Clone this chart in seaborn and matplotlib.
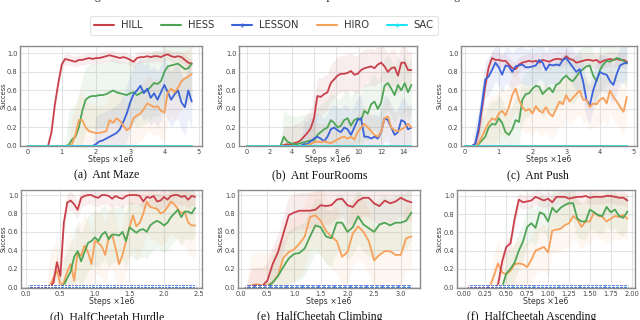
import numpy as np
import pandas as pd
import matplotlib
matplotlib.use('Agg')
import matplotlib.pyplot as plt
from matplotlib.lines import Line2D
import seaborn as sns

# ---- data (success rate vs steps x1e6) ----
methods = ['HILL', 'HESS', 'LESSON', 'HIRO', 'SAC']
colors = {'HILL': '#c9404b', 'HESS': '#4fa556', 'LESSON': '#3a62d9',
          'HIRO': '#f7a05a', 'SAC': '#1ee3f0'}

# (a) Ant Maze
steps_a = np.round(np.arange(0, 4.85, 0.1), 2)
hill_a = [0.0] * 7 + [0.15, 0.45, 0.68, 0.88, 0.94, 0.93, 0.92, 0.91, 0.93, 0.93, 0.94, 0.95,
                      0.94, 0.95, 0.95, 0.96, 0.97, 0.98, 0.97, 0.96, 0.95, 0.96, 0.95, 0.93,
                      0.91, 0.95, 0.96, 0.96, 0.97, 0.96, 0.97, 0.97, 0.96, 0.98, 0.99, 0.97,
                      0.96, 0.97, 0.96, 0.93, 0.90, 0.89]
hess_a = [0.0] * 12 + [0.01, 0.07, 0.1, 0.2, 0.38, 0.5, 0.53, 0.54, 0.54, 0.55, 0.55, 0.56,
                       0.58, 0.6, 0.58, 0.57, 0.56, 0.55, 0.57, 0.58, 0.55, 0.57, 0.59, 0.6,
                       0.64, 0.68, 0.67, 0.7, 0.8, 0.86, 0.87, 0.88, 0.89, 0.86, 0.83, 0.84, 0.89]
lesson_a = [0.0] * 20 + [0.02, 0.05, 0.06, 0.08, 0.1, 0.12, 0.14, 0.18, 0.26, 0.35, 0.47, 0.56,
                         0.6, 0.65, 0.57, 0.62, 0.52, 0.57, 0.5, 0.58, 0.66, 0.58, 0.5, 0.56,
                         0.6, 0.47, 0.42, 0.6, 0.48]
hiro_a = [0.0] * 13 + [0.02, 0.12, 0.28, 0.28, 0.2, 0.16, 0.15, 0.14, 0.14, 0.15, 0.16, 0.28,
                       0.25, 0.3, 0.27, 0.22, 0.17, 0.2, 0.3, 0.33, 0.35, 0.4, 0.46, 0.44,
                       0.42, 0.43, 0.38, 0.36, 0.58, 0.62, 0.58, 0.63, 0.7, 0.73, 0.75, 0.78]
sac_a = [0.0] * 49

# (b) Ant FourRooms
steps_b = np.round(np.arange(0, 14.75, 0.3), 2)
hill_b = [0.0] * 11 + [0.01, 0.02, 0.01, 0.03, 0.04, 0.06, 0.1, 0.14, 0.19, 0.3, 0.54, 0.53,
                       0.56, 0.58, 0.68, 0.72, 0.76, 0.78, 0.78, 0.79, 0.81, 0.77, 0.78, 0.82,
                       0.84, 0.85, 0.86, 0.84, 0.88, 0.9, 0.86, 0.8, 0.84, 0.85, 0.76, 0.9,
                       0.9, 0.82, 0.82]
hess_b = [0.0] * 11 + [0.1, 0.05, 0.03, 0.02, 0.02, 0.03, 0.04, 0.05, 0.06, 0.06, 0.12, 0.15,
                       0.18, 0.2, 0.28, 0.25, 0.2, 0.22, 0.28, 0.3, 0.22, 0.28, 0.3, 0.28,
                       0.38, 0.35, 0.45, 0.48, 0.4, 0.47, 0.65, 0.68, 0.62, 0.55, 0.66, 0.6,
                       0.68, 0.58, 0.66]
lesson_b = [0.0] * 17 + [0.02, 0.02, 0.05, 0.08, 0.1, 0.08, 0.05, 0.1, 0.18, 0.2, 0.17, 0.15,
                         0.2, 0.18, 0.12, 0.2, 0.28, 0.3, 0.1, 0.1, 0.08, 0.1, 0.08, 0.15,
                         0.3, 0.28, 0.2, 0.12, 0.15, 0.28, 0.26, 0.18, 0.2]
hiro_b = [0.0] * 18 + [0.01, 0.02, 0.04, 0.05, 0.04, 0.05, 0.04, 0.03, 0.05, 0.07, 0.09, 0.1,
                       0.08, 0.1, 0.07, 0.15, 0.2, 0.24, 0.2, 0.16, 0.12, 0.1, 0.15, 0.3,
                       0.32, 0.2, 0.17, 0.16, 0.18, 0.2, 0.24, 0.2]
sac_b = [0.0] * 50

# (c) Ant Push
steps_c = np.round(np.arange(0, 4.85, 0.1), 2)
hill_c = [0.0] * 3 + [0.02, 0.15, 0.4, 0.65, 0.85, 0.95, 0.93, 0.93, 0.92, 0.92, 0.88, 0.84,
                      0.83, 0.88, 0.9, 0.91, 0.92, 0.91, 0.92, 0.9, 0.93, 0.92, 0.91, 0.93,
                      0.94, 0.94, 0.93, 0.97, 0.94, 0.93, 0.9, 0.91, 0.92, 0.93, 0.93, 0.92,
                      0.93, 0.9, 0.92, 0.93, 0.94, 0.93, 0.94, 0.93, 0.93, 0.91]
hess_c = [0.0] * 4 + [0.02, 0.06, 0.1, 0.2, 0.24, 0.23, 0.3, 0.25, 0.15, 0.12, 0.18, 0.28,
                      0.26, 0.5, 0.56, 0.57, 0.62, 0.65, 0.64, 0.56, 0.6, 0.63, 0.58, 0.66,
                      0.68, 0.73, 0.76, 0.72, 0.7, 0.75, 0.8, 0.83, 0.86, 0.87, 0.76, 0.7,
                      0.82, 0.88, 0.92, 0.91, 0.93, 0.95, 0.94, 0.92, 0.89]
lesson_c = [0.0] * 3 + [0.02, 0.2, 0.45, 0.72, 0.75, 0.82, 0.9, 0.85, 0.77, 0.87, 0.86, 0.8,
                        0.86, 0.87, 0.88, 0.85, 0.85, 0.86, 0.87, 0.93, 0.9, 0.82, 0.88, 0.87,
                        0.88, 0.87, 0.93, 0.95, 0.9, 0.85, 0.8, 0.83, 0.7, 0.5, 0.44, 0.6,
                        0.71, 0.8, 0.78, 0.77, 0.7, 0.66, 0.78, 0.87, 0.89, 0.9]
hiro_c = [0.0] * 4 + [0.03, 0.1, 0.18, 0.25, 0.3, 0.28, 0.35, 0.38, 0.33, 0.42, 0.55, 0.62,
                      0.5, 0.42, 0.38, 0.4, 0.35, 0.43, 0.38, 0.36, 0.42, 0.35, 0.32, 0.4,
                      0.48, 0.45, 0.55, 0.48, 0.52, 0.56, 0.6, 0.5, 0.5, 0.42, 0.46, 0.45,
                      0.5, 0.52, 0.46, 0.6, 0.53, 0.48, 0.42, 0.37, 0.53]
sac_c = [0.0] * 49

# (d) HalfCheetah Hurdle
steps_d = np.round(np.arange(0.05, 2.46, 0.05), 2)
hill_d = [0.0] * 7 + [0.05, 0.27, 0.12, 0.7, 0.92, 0.94, 0.9, 0.84, 0.97, 0.99, 1.0, 1.0,
                      0.98, 0.97, 1.0, 1.0, 0.99, 0.96, 0.99, 0.97, 0.96, 0.99, 1.0, 1.0,
                      1.0, 0.99, 0.93, 0.98, 0.97, 0.99, 0.93, 0.94, 0.98, 0.95, 0.99, 1.0,
                      1.0, 0.98, 0.99, 0.95, 0.99, 0.98]
hess_d = [0.0] * 10 + [0.02, 0.1, 0.17, 0.33, 0.39, 0.28, 0.38, 0.48, 0.5, 0.54, 0.5, 0.57,
                       0.6, 0.52, 0.57, 0.57, 0.56, 0.6, 0.5, 0.65, 0.62, 0.59, 0.62, 0.63,
                       0.6, 0.67, 0.7, 0.72, 0.7, 0.67, 0.7, 0.76, 0.8, 0.84, 0.76, 0.82,
                       0.82, 0.8, 0.86]
lesson_d = [0.01] * 49
hiro_d = [0.0] * 6 + [0.02, 0.1, 0.18, 0.02, 0.05, 0.17, 0.25, 0.07, 0.38, 0.34, 0.45, 0.38,
                      0.25, 0.5, 0.48, 0.44, 0.35, 0.54, 0.57, 0.42, 0.25, 0.35, 0.5, 0.65,
                      0.78, 0.66, 0.7, 0.8, 0.93, 0.87, 0.86, 0.85, 0.8, 0.82, 0.87, 0.93,
                      0.9, 0.85, 0.8, 0.82, 0.7, 0.67, 0.67]
sac_d = [0.0] * 49

# (e) HalfCheetah Climbing
steps_e = np.round(np.arange(0.1, 3.25, 0.1), 2)
hill_e = [0.0, 0.01, 0.02, 0.01, 0.07, 0.25, 0.38, 0.58, 0.78, 0.81, 0.83, 0.83, 0.83, 0.84,
          0.89, 0.88, 0.89, 0.95, 0.96, 0.89, 0.87, 0.94, 0.97, 0.97, 0.91, 0.88, 0.94, 0.91,
          0.93, 0.97, 0.94, 0.92]
hess_e = [0.0, 0.0, 0.0, 0.0, 0.0, 0.05, 0.12, 0.22, 0.31, 0.36, 0.37, 0.42, 0.55, 0.67,
          0.65, 0.55, 0.53, 0.7, 0.7, 0.6, 0.65, 0.77, 0.68, 0.64, 0.6, 0.68, 0.7, 0.67,
          0.7, 0.7, 0.72, 0.81]
lesson_e = [0.01] * 32
hiro_e = [0.0, 0.02, 0.03, 0.02, 0.02, 0.05, 0.13, 0.32, 0.38, 0.41, 0.47, 0.55, 0.76, 0.78,
          0.72, 0.61, 0.55, 0.5, 0.33, 0.38, 0.58, 0.66, 0.6, 0.5, 0.29, 0.35, 0.39, 0.39,
          0.35, 0.35, 0.53, 0.55]
sac_e = [0.0] * 32

# (f) HalfCheetah Ascending
steps_f = np.round(np.arange(0.05, 1.96, 0.05), 2)
hill_f = [0.0] * 7 + [0.02, 0.28, 0.44, 0.48, 0.75, 0.96, 0.93, 0.94, 0.95, 0.99, 0.97, 0.95,
                      0.97, 0.93, 0.99, 0.99, 0.99, 0.97, 0.98, 0.99, 0.99, 1.0, 0.98, 0.99,
                      0.99, 0.99, 1.0, 1.0, 0.99, 0.98, 0.98, 0.95]
hess_f = [0.0] * 9 + [0.15, 0.2, 0.27, 0.4, 0.5, 0.66, 0.7, 0.65, 0.82, 0.8, 0.72, 0.87,
                      0.82, 0.87, 0.9, 0.92, 0.92, 0.75, 0.72, 0.72, 0.85, 0.82, 0.79, 0.78,
                      0.88, 0.82, 0.85, 0.78, 0.76, 0.83]
lesson_f = [0.01] * 39
hiro_f = [0.0] * 6 + [0.12, 0.26, 0.16, 0.14, 0.18, 0.25, 0.26, 0.25, 0.22, 0.3, 0.4, 0.42,
                      0.44, 0.38, 0.62, 0.63, 0.64, 0.68, 0.7, 0.78, 0.74, 0.66, 0.72, 0.72,
                      0.82, 0.78, 0.77, 0.72, 0.75, 0.78, 0.77, 0.79, 0.75]
sac_f = [0.0] * 39

# half-width of the shaded spread, per method: HILL, HESS, LESSON, HIRO
spread_a = [0.06, 0.35, 0.3, 0.3]
spread_b = [0.2, 0.3, 0.25, 0.2]
spread_c = [0.08, 0.25, 0.2, 0.25]
spread_d = [0.1, 0.3, 0.0, 0.35]
spread_e = [0.2, 0.3, 0.0, 0.35]
spread_f = [0.08, 0.2, 0.0, 0.25]

panels = [
    dict(cap='(a)  Ant Maze', steps=steps_a, vals=[hill_a, hess_a, lesson_a, hiro_a, sac_a],
         spread=spread_a, xticks=[0, 1, 2, 3, 4, 5], fmt='{:g}', xlim=(-0.22, 5.1),
         ylim=(0, 1.08), pos=[20, 46, 202, 146], ylab=-13, capxy=(107, 175), top=True),
    dict(cap='(b)  Ant FourRooms', steps=steps_b, vals=[hill_b, hess_b, lesson_b, hiro_b, sac_b],
         spread=spread_b, xticks=[0, 2, 4, 6, 8, 10, 12, 14], fmt='{:g}', xlim=(-0.7, 15.2),
         ylim=(0, 1.08), pos=[239, 46, 417, 146], ylab=-15, capxy=(320, 175), top=True),
    dict(cap='(c)  Ant Push', steps=steps_c, vals=[hill_c, hess_c, lesson_c, hiro_c, sac_c],
         spread=spread_c, xticks=[0, 1, 2, 3, 4, 5], fmt='{:g}', xlim=(-0.12, 5.1),
         ylim=(0, 1.08), pos=[461, 46, 637, 146], ylab=-18, capxy=(538, 175), top=True),
    dict(cap='(d)  HalfCheetah Hurdle', steps=steps_d, vals=[hill_d, hess_d, lesson_d, hiro_d, sac_d],
         spread=spread_d, xticks=[0, 0.5, 1.0, 1.5, 2.0, 2.5], fmt='{:.1f}', xlim=(-0.07, 2.55),
         ylim=(-0.01, 1.055), pos=[21, 190, 202, 288], ylab=-14, capxy=(107, 311), top=False),
    dict(cap='(e)  HalfCheetah Climbing', steps=steps_e, vals=[hill_e, hess_e, lesson_e, hiro_e, sac_e],
         spread=spread_e, xticks=[0, 0.5, 1.0, 1.5, 2.0, 2.5, 3.0], fmt='{:.1f}', xlim=(-0.05, 3.36),
         ylim=(-0.01, 1.055), pos=[238, 190, 420, 288], ylab=-14, capxy=(320, 311), top=False),
    dict(cap='(f)  HalfCheetah Ascending', steps=steps_f, vals=[hill_f, hess_f, lesson_f, hiro_f, sac_f],
         spread=spread_f, xticks=[0, 0.25, 0.5, 0.75, 1.0, 1.25, 1.5, 1.75, 2.0], fmt='{:.2f}',
         xlim=(-0.09, 2.04), ylim=(-0.01, 1.065), pos=[457, 190, 635, 288], ylab=-14,
         capxy=(532, 311), top=False),
]

sns.set_theme(style='whitegrid', rc={
    'axes.edgecolor': '#8c8c8c', 'axes.linewidth': 1.0,
    'grid.color': '#e3e3e3', 'grid.linewidth': 0.8,
})
plt.rcParams['font.family'] = ['DejaVu Sans']

W, H = 640, 320
fig = plt.figure(figsize=(6.4, 3.2), dpi=100)

for p in panels:
    x0, y0, x1, y1 = p['pos']
    ax = fig.add_axes([x0 / W, 1 - y1 / H, (x1 - x0) / W, (y1 - y0) / H])
    df = pd.DataFrame({'step': p['steps']})
    for m, v in zip(methods, p['vals']):
        df[m] = v
    long = df.melt(id_vars='step', var_name='method', value_name='success')

    # shaded spread first
    for i, m in enumerate(methods[:4]):
        d = long[long['method'] == m]
        s = p['spread'][i] * (d['success'] > 0.005)
        ax.fill_between(d['step'], d['success'] - s, d['success'] + s,
                        color=colors[m], alpha=0.09, lw=0)

    order = ['HILL', 'HESS', 'LESSON', 'HIRO', 'SAC'] if p['top'] else ['SAC', 'HIRO', 'HESS', 'HILL', 'LESSON']
    for m in order:
        d = long[long['method'] == m]
        kw = dict(lw=1.3)
        if m == 'LESSON' and not p['top']:
            kw = dict(lw=1.8, marker='+', markersize=2.5, markeredgewidth=0.7)
        sns.lineplot(data=d, x='step', y='success', color=colors[m],
                     errorbar=None, ax=ax, **kw)

    ax.set_xlim(*p['xlim'])
    ax.set_ylim(*p['ylim'])
    ax.set_xticks(p['xticks'])
    ax.set_xticklabels([p['fmt'].format(t) for t in p['xticks']])
    ax.set_yticks([0, 0.2, 0.4, 0.6, 0.8, 1.0])
    ax.set_yticklabels(['0.0', '0.2', '0.4', '0.6', '0.8', '1.0'])
    ax.tick_params(labelsize=4.8, pad=1.8, length=0, colors='#444444')
    ax.set_xlabel('Steps ×1e6', fontsize=5.6, labelpad=0.5, color='#333333')
    ax.set_ylabel('Success', fontsize=4.8, color='#333333')
    # ylabel is anchored at its right-hand side (bottom of rotated text)
    ax.yaxis.set_label_coords(p['ylab'] / (x1 - x0), 0.5)
    cx, cy = p['capxy']
    fig.text(cx / W, 1 - cy / H, p['cap'], ha='center', va='center' if p['top'] else 'top',
             fontsize=8.5, family='Liberation Serif', color='#111111')

# legend
handles = []
for m in methods:
    mk = '+' if m in ('LESSON', 'SAC') else None
    handles.append(Line2D([], [], color=colors[m], lw=1.5, marker=mk, markersize=3))
leg = fig.legend(handles, methods, loc='center', bbox_to_anchor=(264 / W, 1 - 25.5 / H), ncol=5,
                 fontsize=7.2, frameon=True, fancybox=True, handlelength=2.0,
                 columnspacing=1.8, handletextpad=0.7, borderpad=0.45)
leg.get_frame().set_edgecolor('#dddddd')
leg.get_frame().set_linewidth(0.8)
for t in leg.get_texts():
    t.set_color('#333333')

# caption of the figure, cut at the top edge
fig.text(0.5, 1.012, 'Fig. 2: The continuous control environments with sparse rewards for evaluating HILL and baselines',
         ha='center', va='center', fontsize=8.5, family='Liberation Serif', color='#222222')

fig.savefig('out.png', dpi=100)
